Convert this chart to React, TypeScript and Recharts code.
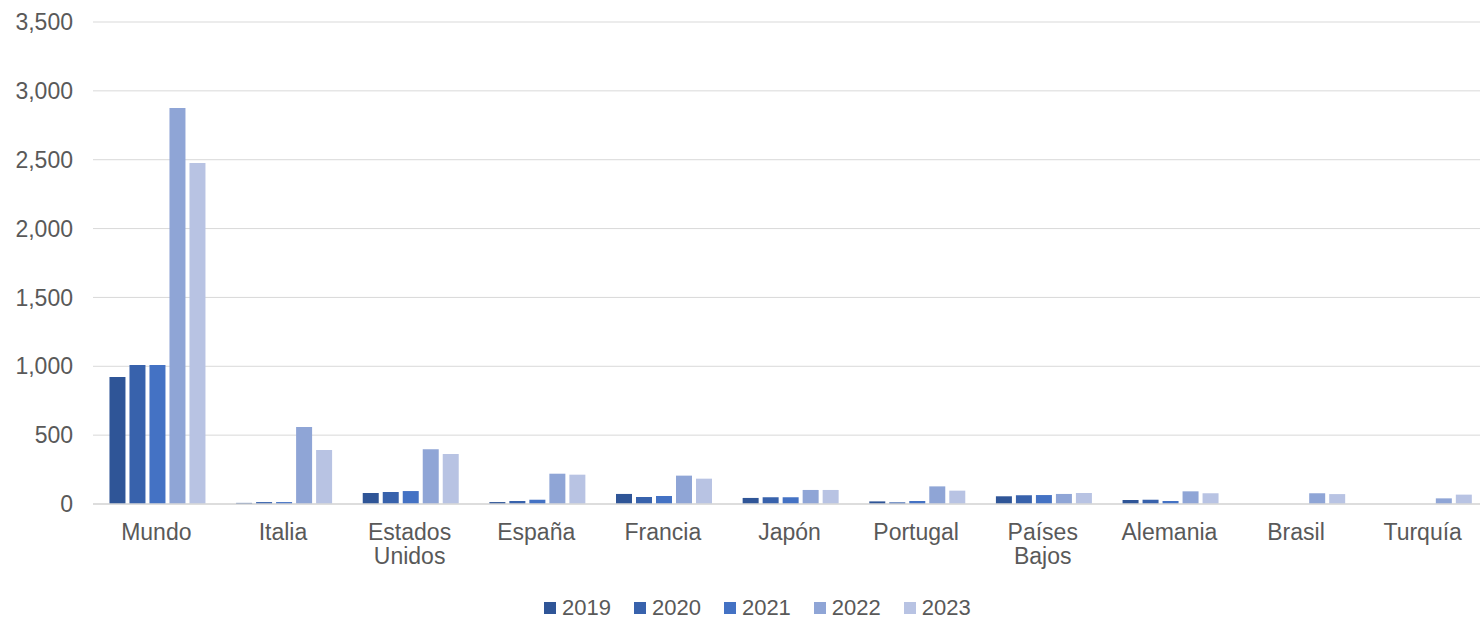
import React from 'react';
import { BarChart, Bar, XAxis, YAxis, CartesianGrid, Legend } from 'recharts';

const categories = ['Mundo', 'Italia', 'Estados Unidos', 'España', 'Francia', 'Japón', 'Portugal', 'Países Bajos', 'Alemania', 'Brasil', 'Turquía'];

const years = ['2019', '2020', '2021', '2022', '2023'];

const v2019 = [922, 8, 80, 14, 73, 44, 19, 56, 29, null, null];
const v2020 = [1009, 14, 87, 22, 51, 49, 12, 63, 31, null, null];
const v2021 = [1009, 14, 94, 31, 58, 49, 22, 65, 22, null, null];
const v2022 = [2876, 559, 397, 220, 206, 102, 128, 73, 92, 78, 41];
const v2023 = [2476, 392, 363, 213, 184, 102, 97, 80, 78, 72, 68];

const yTicks = [0, 500, 1000, 1500, 2000, 2500, 3000, 3500];

const colors = ['#2F5597', '#3862AC', '#4472C4', '#8FA5D6', '#B8C3E3'];

const series = [v2019, v2020, v2021, v2022, v2023];

const data = categories.map((name, i) => {
  const row: any = { name };
  years.forEach((y, k) => {
    row[y] = series[k][i];
  });
  return row;
});

const FONT = '"Liberation Sans", Arial, sans-serif';
const TEXT = '#595959';

// two-word country names go on two lines, like the original
const CategoryTick = ({ x, y, payload }: any) => {
  const lines = String(payload.value).split(' ');
  return (
    <text x={x} y={y} textAnchor="middle" fill={TEXT} fontSize={23} fontFamily={FONT}>
      {lines.map((l, i) => (
        <tspan key={i} x={x} dy={i === 0 ? 16 : 24}>
          {l}
        </tspan>
      ))}
    </text>
  );
};

const LegendContent = () => (
  <div style={{ display: 'flex', alignItems: 'center', paddingLeft: 544, height: 24, fontFamily: FONT, fontSize: 22, color: TEXT }}>
    {years.map((y, i) => (
      <div key={y} style={{ display: 'flex', alignItems: 'center', marginRight: 23 }}>
        <span style={{ width: 12, height: 12, background: colors[i], display: 'inline-block', marginRight: 6 }} />
        <span style={{ lineHeight: '24px' }}>{y}</span>
      </div>
    ))}
  </div>
);

export default function App() {
  return (
    <div style={{ position: 'absolute', left: 0, top: 0, width: 1480, height: 620, overflow: 'hidden', background: '#fff' }}>
      <BarChart
        width={1486}
        height={620}
        data={data}
        margin={{ top: 22, right: 0, bottom: 0, left: 0 }}
        barCategoryGap="13%"
        barGap={4}
      >
        <CartesianGrid vertical={false} stroke="#D9D9D9" strokeWidth={1} />
        <YAxis
          width={93}
          domain={[0, 3500]}
          ticks={yTicks}
          axisLine={false}
          tickLine={false}
          tickMargin={14}
          tickFormatter={(v: number) => v.toLocaleString('en-US')}
          tick={{ fill: TEXT, fontSize: 23, fontFamily: FONT }}
        />
        <XAxis
          dataKey="name"
          height={92}
          interval={0}
          tickLine={false}
          axisLine={{ stroke: '#D9D9D9', strokeWidth: 1.5 }}
          tickMargin={14}
          tick={<CategoryTick />}
        />
        <Legend
          content={<LegendContent />}
          wrapperStyle={{ top: 596, left: 0, width: 1480, height: 24 }}
        />
        {years.map((y, i) => (
          <Bar key={y} dataKey={y} fill={colors[i]} isAnimationActive={false} />
        ))}
      </BarChart>
    </div>
  );
}
